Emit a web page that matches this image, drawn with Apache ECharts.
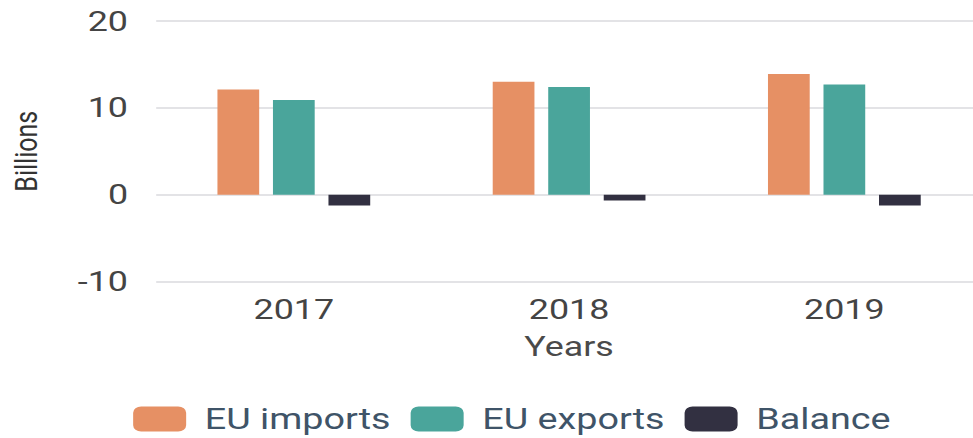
<!DOCTYPE html>
<html>
<head>
<meta charset="utf-8">
<script src="https://cdn.jsdelivr.net/npm/echarts@6/dist/echarts.min.js"></script>
<style>
html,body{margin:0;padding:0;overflow:hidden;background:#fff;width:973px;height:438px;}
#chart{width:767px;height:438px;transform:scaleX(1.2803);transform-origin:0 0;}
</style>
</head>
<body>
<div id="chart"></div>
<script>
const categories = ['2017', '2018', '2019'];
const euImports = [12.1, 13.0, 13.9];
const euExports = [10.9, 12.4, 12.7];
const balance = [-1.25, -0.67, -1.25];
const seriesNames = ['EU imports', 'EU exports', 'Balance'];
const colors = ['#E69064', '#4AA59B', '#323041'];

const chart = echarts.init(document.getElementById('chart'), null, {renderer: 'svg'});
const barCommon = {type: 'bar', barWidth: 32.6, barGap: '33%'};
chart.setOption({
  animation: false,
  color: colors,
  grid: {left: 120.5, right: 0, top: 21, bottom: 156.5, containLabel: false},
  legend: {
    left: 104, top: 404, padding: 0,
    itemWidth: 41.4, itemHeight: 25, itemGap: 15.6,
    icon: 'roundRect',
    textStyle: {fontFamily: 'Roboto', fontSize: 29.5, color: '#3f5468', padding: [0, 0, 0, 9.5]},
    data: seriesNames
  },
  xAxis: {
    type: 'category',
    data: categories,
    name: 'Years',
    nameLocation: 'middle',
    nameGap: 51,
    nameTextStyle: {fontFamily: 'Roboto', fontSize: 28, color: '#4a4a4a'},
    axisLine: {show: false},
    axisTick: {show: false},
    axisLabel: {fontFamily: 'Roboto', fontSize: 28, color: '#444', margin: 14}
  },
  yAxis: {
    type: 'value',
    min: -10, max: 20, interval: 10,
    name: 'Billions',
    nameLocation: 'middle',
    nameRotate: 90,
    nameGap: 89,
    nameTextStyle: {fontFamily: 'Roboto', fontSize: 25, color: '#333'},
    axisLine: {show: false},
    axisTick: {show: false},
    axisLabel: {fontFamily: 'Roboto', fontSize: 28, color: '#444', margin: 22, padding: [8, 0, 0, 0]},
    splitLine: {lineStyle: {color: '#e3e3e6', width: 2}}
  },
  series: [
    Object.assign({name: seriesNames[0], data: euImports}, barCommon),
    Object.assign({name: seriesNames[1], data: euExports}, barCommon),
    Object.assign({name: seriesNames[2], data: balance}, barCommon)
  ]
});
</script>
</body>
</html>
